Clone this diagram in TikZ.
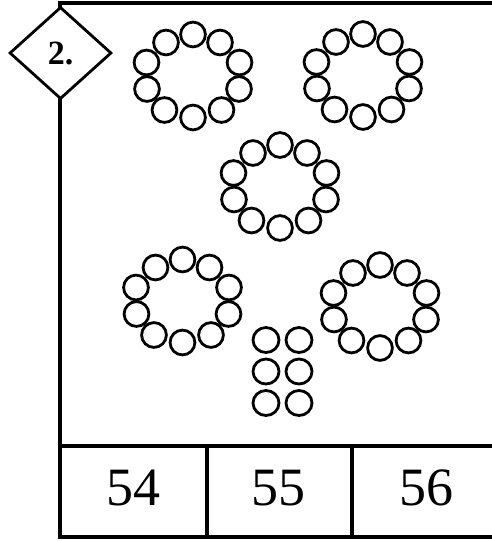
\documentclass[tikz,border=0pt]{standalone}
\usepackage{fontspec}
\setmainfont{Liberation Serif}
\usepackage{tikz}
\usetikzlibrary{shapes.geometric}

\begin{document}
\begin{tikzpicture}[x=1pt, y=-1pt,
  frame/.style={line width=4pt},
  divider/.style={line width=4.6pt},
  ball/.style={draw, line width=2.8pt},
  ring/.pic={\foreach \dx/\dy in {0/-41.5, 27/-33.5, 46.5/-13.5, 46/13, 28.5/34, 0/41.5, -28.5/34, -46/13, -46.5/-13.5, -27/-33.5}
      \draw[ball] (\dx,\dy) circle[radius=12.4];},
  tag/.style={draw, diamond, fill=white, line width=2.8pt, minimum width=102pt, minimum height=92pt, inner sep=0pt, font=\fontsize{34}{36}\selectfont\bfseries},
  num/.style={font=\fontsize{54}{60}\selectfont}
]
\useasboundingbox (0,0) rectangle (492,541);

% --- Frame and answer cells ---
\draw[frame] (496,2.5) -- (60,2.5) -- (60,537) -- (496,537);
\draw[divider] (60,446) -- (496,446);
\draw[frame] (206.5,446) -- (206.5,537);
\draw[frame] (352,446) -- (352,537);

% --- Question tag ---
\node[tag] (tag) at (60.5,53) {\raisebox{-3pt}{2.}};

% --- Rings of ten ---
\pic at (193,76) {ring};
\pic at (363,75.5) {ring};
\pic at (280,186.5) {ring};
\pic at (182.5,301) {ring};
\pic at (380,306.5) {ring};

% --- Six loose ones ---
\foreach \x in {266,299}
  \foreach \y in {340,371.5,403}
    \draw[ball] (\x,\y) ellipse[x radius=13, y radius=12.5];

% --- Answers ---
\node[num] (a54) at (133,488) {54};
\node[num] (a55) at (278.5,488) {55};
\node[num] (a56) at (426,488) {56};

\end{tikzpicture}
\end{document}
